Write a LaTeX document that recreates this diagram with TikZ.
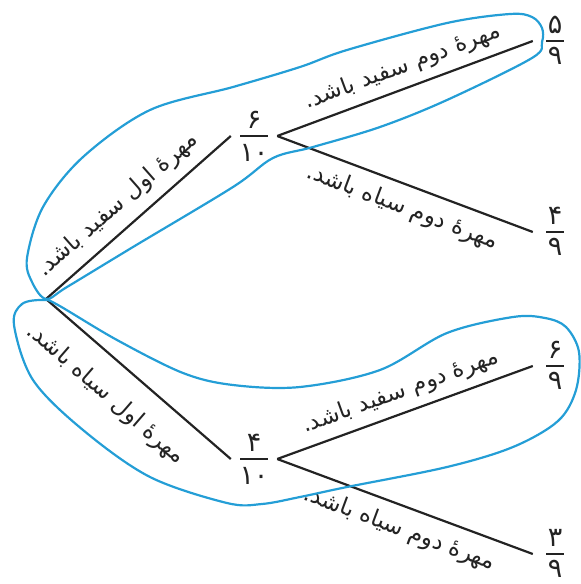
\documentclass[tikz,border=0pt]{standalone}
\usepackage{fontspec}
\newfontfamily\fa[Script=Arabic]{DejaVu Sans}
\TeXXeTstate=1
\definecolor{loopblue}{RGB}{36,158,214}
\definecolor{ink}{RGB}{35,35,35}
\newcommand\rtltext[1]{\beginR #1\endR}
\newcommand\fbar[1]{\rule[-0.6pt]{#1}{1.3pt}}
\begin{document}
\begin{tikzpicture}[x=1pt,y=-1pt,
  branch/.style={draw=ink, line width=2.2pt},
  loop/.style={draw=loopblue, line width=2.2pt},
  lab/.style={font=\fa\fontsize{23}{25}\selectfont, text=ink, sloped, inner sep=0pt},
  num/.style={font=\fa\fontsize{27}{27}\selectfont, text=ink, inner sep=0pt, anchor=base},
  midfrac/.style={inner xsep=9pt, inner ysep=0pt, text=ink},
  leaffrac/.style={inner xsep=13pt, inner ysep=0pt, text=ink}]
\useasboundingbox (0,0) rectangle (581,584);

% root and fraction bars
\coordinate (r) at (46,299);
\node[midfrac] (m1) at (254,136) {\fbar{28pt}};
\node[midfrac] (m2) at (254,459) {\fbar{28pt}};
\node[leaffrac] (l1) at (555,41) {\fbar{18pt}};
\node[leaffrac] (l2) at (555,232) {\fbar{18pt}};
\node[leaffrac] (l3) at (555,366) {\fbar{18pt}};
\node[leaffrac] (l4) at (555,554) {\fbar{18pt}};

% numerators and denominators
\node[num] (m1n) at ([yshift=8pt]m1.center) {۶};
\node[num] (m1d) at ([yshift=-25pt]m1.center) {۱۰};
\node[num] (m2n) at ([yshift=8pt]m2.center) {۴};
\node[num] (m2d) at ([yshift=-25pt]m2.center) {۱۰};
\node[num] (l1n) at ([yshift=8pt]l1.center) {۵};
\node[num] (l1d) at ([yshift=-23pt]l1.center) {۹};
\node[num] (l2n) at ([yshift=8pt]l2.center) {۴};
\node[num] (l2d) at ([yshift=-23pt]l2.center) {۹};
\node[num] (l3n) at ([yshift=8pt]l3.center) {۶};
\node[num] (l3d) at ([yshift=-23pt]l3.center) {۹};
\node[num] (l4n) at ([yshift=8pt]l4.center) {۳};
\node[num] (l4d) at ([yshift=-23pt]l4.center) {۹};

% branches with their labels
\draw[branch] (r) -- node[lab, pos=0.47, yshift=23pt] {\rtltext{مهرهٔ اول سفید باشد.}} (m1.west);
\draw[branch] (r) -- node[lab, pos=0.44, yshift=-33pt] {\rtltext{مهرهٔ اول سیاه باشد.}} (m2.west);
\draw[branch] (m1.east) -- node[lab, pos=0.52, yshift=21pt] {\rtltext{مهرهٔ دوم سفید باشد.}} (l1.west);
\draw[branch] (m1.east) -- node[lab, pos=0.52, yshift=-23pt] {\rtltext{مهرهٔ دوم سیاه باشد.}} (l2.west);
\draw[branch] (m2.east) -- node[lab, pos=0.51, yshift=21pt] {\rtltext{مهرهٔ دوم سفید باشد.}} (l3.west);
\draw[branch] (m2.east) -- node[lab, pos=0.51, yshift=-23pt] {\rtltext{مهرهٔ دوم سیاه باشد.}} (l4.west);

% outline around the white-white path
\draw[loop] plot[smooth cycle, tension=0.55] coordinates {
  (46,299) (32,282) (27,258) (43,207) (83,157) (150,110) (233,87) (300,67)
  (347,50) (447,23) (510,14) (532,17) (542,28) (542,42) (532,58)
  (447,100) (380,127) (313,147) (273,158) (233,187) (133,247) (67,287)};

% outline around the black-white path
\draw[loop] plot[smooth cycle, tension=0.55] coordinates {
  (44,300) (22,304) (14,325) (33,380) (83,430) (150,477) (227,503) (262,504)
  (300,497) (347,487) (447,467) (513,447) (558,421) (576,390) (579,352)
  (566,327) (545,318) (513,317) (447,333) (380,370) (300,387) (233,385)
  (183,373) (117,340) (58,305)};
\end{tikzpicture}
\end{document}
